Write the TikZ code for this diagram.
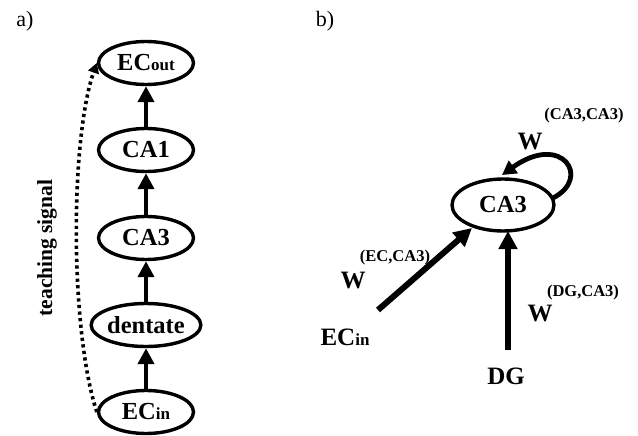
\documentclass[tikz,border=0pt]{standalone}
\usepackage{fontspec}
\setmainfont{Liberation Serif}
\usetikzlibrary{arrows.meta,shapes.geometric}
\newcommand\subsz{\fontsize{17}{19}\selectfont\bfseries}
\begin{document}
\begin{tikzpicture}[x=1pt,y=1pt,
  ell/.style={ellipse,draw,line width=3.4pt,minimum width=95pt,minimum height=43pt,inner sep=0pt,font=\fontsize{24.5}{26}\selectfont\bfseries},
  thickarr/.style={line width=4.8pt,-{Triangle[length=16pt,width=16pt]}},
  bigarr/.style={line width=6pt,-{Triangle[length=18pt,width=18pt]}},
  lbl/.style={font=\fontsize{25}{27}\selectfont\bfseries,inner sep=0pt},
  sup/.style={font=\fontsize{16.5}{18}\selectfont\bfseries,inner sep=0pt}
]
\useasboundingbox (0,0) rectangle (638,-436);
% panel labels
\node[font=\fontsize{22}{24}\selectfont] (pa) at (25,-21) {a)};
\node[font=\fontsize{22}{24}\selectfont] (pb) at (325,-21) {b)};
% panel a
\node[ell] (ecout) at (146,-63) {EC{\subsz out}};
\node[ell] (ca1) at (146,-150) {CA1};
\node[ell] (ca3a) at (146,-238) {CA3};
\node[ell] (dent) at (146,-325) {dentate};
\node[ell] (ecin) at (146,-412) {EC{\subsz in}};
\draw[thickarr] (ca1) -- (ecout);
\draw[thickarr] (ca3a) -- (ca1);
\draw[thickarr] (dent) -- (ca3a);
\draw[thickarr] (ecin) -- (dent);
\draw[line width=3.6pt,dash pattern=on 3.2pt off 3.4pt,-{Triangle[length=10pt,width=11pt]}]
  (ecin.west) .. controls (70,-330) and (70,-140) .. (ecout.west);
\node[font=\fontsize{21.5}{23}\selectfont\bfseries,rotate=90] (ts) at (47,-248) {teaching signal};
% panel b
\node[ell,minimum width=102pt,minimum height=52pt] (ca3b) at (503,-205) {CA3};
\node[lbl] (ecinb) at (345,-337) {EC{\subsz in}};
\node[lbl] (dg) at (506,-376) {DG};
\coordinate (ecs) at (378,-310);
\coordinate (ecend) at (472,-228);
\coordinate (dgs) at (508,-350);
\coordinate (dgend) at (508,-231);
\coordinate (ls) at (553,-198);
\coordinate (le) at (502,-175);
\draw[bigarr] (ecs) -- (ecend);
\draw[bigarr] (dgs) -- (dgend);
\draw[line width=4.8pt,-{Triangle[length=14pt,width=15pt]}]
  (ls) .. controls (592,-178) and (562,-132) .. (le);
\node[lbl] (w1) at (530,-142) {W};
\node[sup] (s1) at (584,-116) {(CA3,CA3)};
\node[lbl] (w2) at (353,-281) {W};
\node[sup] (s2) at (395,-258) {(EC,CA3)};
\node[lbl] (w3) at (540,-314) {W};
\node[sup] (s3) at (583,-293) {(DG,CA3)};
\end{tikzpicture}
\end{document}
